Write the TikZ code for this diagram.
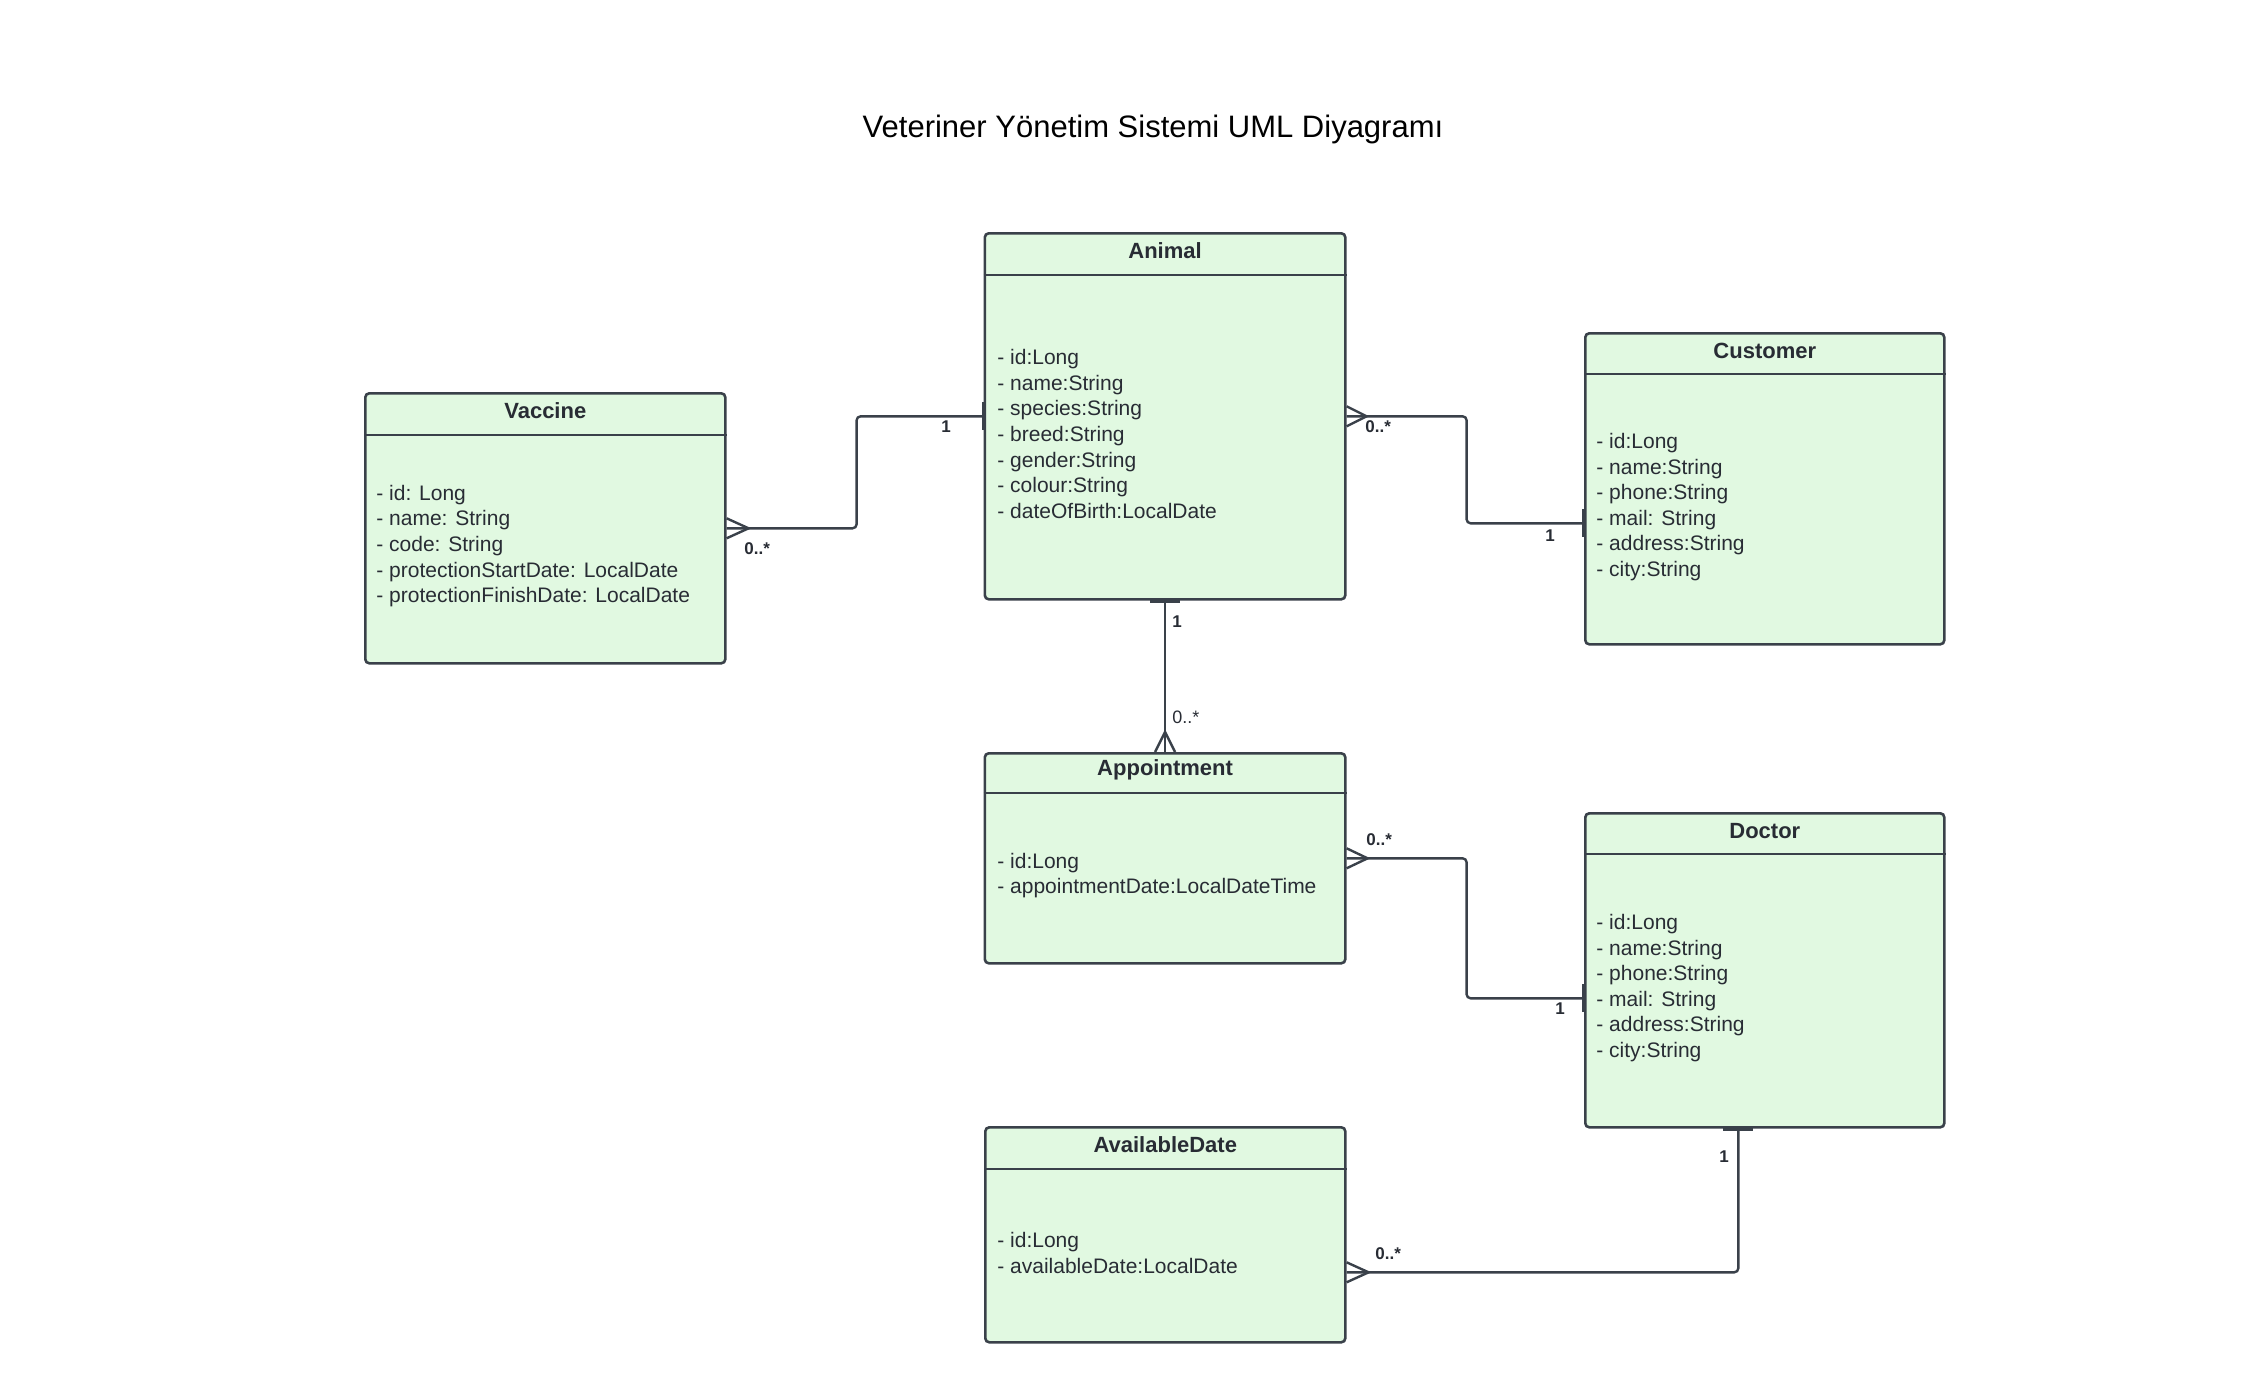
\documentclass[tikz,border=0pt]{standalone}
\usepackage{fontspec}
\setmainfont{Liberation Sans}
\definecolor{boxfill}{RGB}{225,249,225}
\definecolor{linec}{RGB}{58,65,74}
\definecolor{textc}{RGB}{40,44,52}
\begin{document}
\begin{tikzpicture}[x=0.5pt,y=-0.5pt,
  cls/.style={draw=linec, fill=boxfill, line width=1.3pt, rounded corners=2pt, anchor=north west, inner sep=0, minimum width=180pt},
  hdr/.style={draw=linec, line width=1.3pt},
  ctitle/.style={font=\bfseries\fontsize{11}{13}\selectfont, text=textc, inner sep=0},
  attr/.style={font=\fontsize{10.5}{12.8}\selectfont, text=textc, align=left, anchor=west, inner sep=0},
  conn/.style={draw=linec, line width=1.2pt, rounded corners=2pt},
  crow/.style={draw=linec, line width=1.2pt},
  onebar/.style={draw=linec, line width=2pt},
  mult/.style={font=\bfseries\fontsize{8.5}{10}\selectfont, text=textc, inner sep=0},
  multr/.style={font=\fontsize{9}{10.5}\selectfont, text=textc, inner sep=0}]
\useasboundingbox (0,0) rectangle (2244,1372);

\node[font=\fontsize{15.5}{18}\selectfont, inner sep=0] (title) at (1153,129) {Veteriner Yönetim Sistemi UML Diyagramı};

% classes
\node[cls, minimum width=180.25pt, minimum height=183pt] (animal) at (983.5,232) {};
\draw[hdr] ([yshift=-21.5pt]animal.north west) -- ([yshift=-21.5pt]animal.north east);
\node[ctitle] (animalT) at ([yshift=-9.5pt]animal.north) {Animal};
\node[attr] (animalA) at (997,434) {- id:Long\\- name:String\\- species:String\\- breed:String\\- gender:String\\- colour:String\\- dateOfBirth:LocalDate};

\node[cls, minimum height=135pt] (vaccine) at (364,392) {};
\draw[hdr] ([yshift=-21.5pt]vaccine.north west) -- ([yshift=-21.5pt]vaccine.north east);
\node[ctitle] (vaccineT) at ([yshift=-9.5pt]vaccine.north) {Vaccine};
\node[attr] (vaccineA) at (376,546) {- id: Long\\- name: String\\- code: String\\- protectionStartDate: LocalDate\\- protectionFinishDate: LocalDate};

\node[cls, minimum width=179.5pt, minimum height=155.5pt] (customer) at (1584,332) {};
\draw[hdr] ([yshift=-21pt]customer.north west) -- ([yshift=-21pt]customer.north east);
\node[ctitle] (customerT) at ([yshift=-9.5pt]customer.north) {Customer};
\node[attr] (customerA) at (1596,507) {- id:Long\\- name:String\\- phone:String\\- mail: String\\- address:String\\- city:String};

\node[cls, minimum width=180.25pt, minimum height=105pt] (appointment) at (983.5,752) {};
\draw[hdr] ([yshift=-20.5pt]appointment.north west) -- ([yshift=-20.5pt]appointment.north east);
\node[ctitle] (appointmentT) at ([yshift=-9pt]appointment.north) {Appointment};
\node[attr] (appointmentA) at (997,875.5) {- id:Long\\- appointmentDate:LocalDateTime};

\node[cls, minimum width=179.5pt, minimum height=157pt] (doctor) at (1584,812) {};
\draw[hdr] ([yshift=-21pt]doctor.north west) -- ([yshift=-21pt]doctor.north east);
\node[ctitle] (doctorT) at ([yshift=-9.5pt]doctor.north) {Doctor};
\node[attr] (doctorA) at (1596,988) {- id:Long\\- name:String\\- phone:String\\- mail: String\\- address:String\\- city:String};

\node[cls, minimum height=107.5pt] (avail) at (984,1126) {};
\draw[hdr] ([yshift=-21.5pt]avail.north west) -- ([yshift=-21.5pt]avail.north east);
\node[ctitle] (availT) at ([yshift=-9.5pt]avail.north) {AvailableDate};
\node[attr] (availA) at (997,1253) {- id:Long\\- availableDate:LocalDate};

% connection points
\coordinate (custW) at ([yshift=-17.25pt]customer.west);
\coordinate (docW) at ([yshift=-14pt]doctor.west);
\coordinate (docS) at ([xshift=-13.25pt]doctor.south);
\coordinate (avE) at ([yshift=-18.75pt]avail.east);

% Vaccine - Animal
\draw[conn] (vaccine.east) -- ++(130,0) |- (animal.west);
\draw[crow] ([yshift=5pt]vaccine.east) -- ([xshift=11pt]vaccine.east) -- ([yshift=-5pt]vaccine.east);
\draw[onebar] ([yshift=7pt]animal.west) -- ([yshift=-7pt]animal.west);
\node[mult, anchor=west] (m1) at (744,549) {0..*};
\node[mult] (m2) at (946,427) {1};

% Animal - Customer
\draw[conn] (animal.east) -- ++(120,0) |- (custW);
\draw[crow] ([yshift=5pt]animal.east) -- ([xshift=10pt]animal.east) -- ([yshift=-5pt]animal.east);
\draw[onebar] ([yshift=7pt]custW) -- ([yshift=-7pt]custW);
\node[mult, anchor=west] (m3) at (1365,427) {0..*};
\node[mult] (m4) at (1550,536) {1};

% Animal - Appointment
\draw[conn] (animal.south) -- (appointment.north);
\draw[onebar] ([xshift=-7.5pt]animal.south) -- ([xshift=7.5pt]animal.south);
\draw[crow] ([xshift=-5pt]appointment.north) -- ([yshift=10pt]appointment.north) -- ([xshift=5pt]appointment.north);
\node[mult] (m5) at (1177,622) {1};
\node[multr, anchor=west] (m6) at (1172,717) {0..*};

% Appointment - Doctor
\draw[conn] (appointment.east) -- ++(120,0) |- (docW);
\draw[crow] ([yshift=5pt]appointment.east) -- ([xshift=10.5pt]appointment.east) -- ([yshift=-5pt]appointment.east);
\draw[onebar] ([yshift=7pt]docW) -- ([yshift=-7pt]docW);
\node[mult, anchor=west] (m7) at (1366,840) {0..*};
\node[mult] (m8) at (1560,1009) {1};

% Doctor - AvailableDate
\draw[conn] (docS) |- (avE);
\draw[onebar] ([xshift=-7.5pt]docS) -- ([xshift=7.5pt]docS);
\draw[crow] ([yshift=5pt]avE) -- ([xshift=11pt]avE) -- ([yshift=-5pt]avE);
\node[mult] (m9) at (1724,1157) {1};
\node[mult, anchor=west] (m10) at (1375,1254) {0..*};
\end{tikzpicture}
\end{document}
